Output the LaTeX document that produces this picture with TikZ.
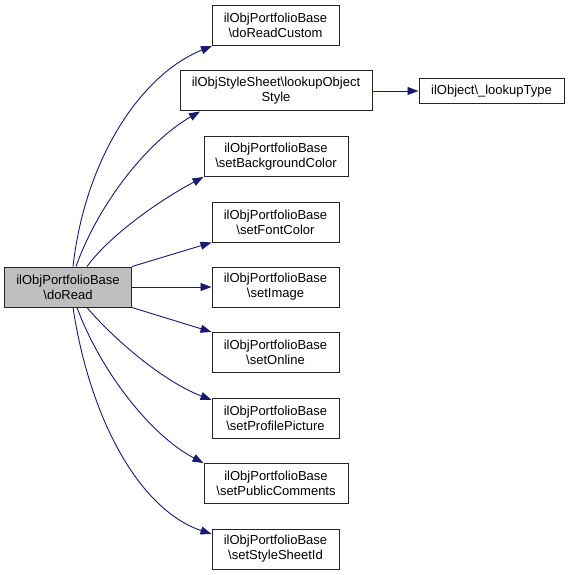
\documentclass[tikz,border=0pt]{standalone}
\usepackage{fontspec}
\setmainfont{Liberation Sans}
\usetikzlibrary{arrows.meta}
\definecolor{edgeblue}{RGB}{25,25,112}
\definecolor{rootgray}{RGB}{191,191,191}

\begin{document}
\begin{tikzpicture}[x=1pt,y=-1pt,
    fn/.style = {draw=black!85, line width=1pt, inner sep=0pt, minimum height=40pt,
        minimum width=127pt, align=center, font=\fontsize{13}{15}\selectfont},
    call/.style = {draw=edgeblue, line width=0.9pt,
        -{Triangle[length=11pt,width=8pt]}}]
\useasboundingbox (0,0) rectangle (569,575);
\node[fn, fill=rootgray] (root) at (68,287) {ilObjPortfolioBase\\\textbackslash doRead};
\node[fn] (readcustom) at (275.5,25.5) {ilObjPortfolioBase\\\textbackslash doReadCustom};
\node[fn, minimum width=192pt] (lookupstyle) at (276,91) {ilObjStyleSheet\textbackslash lookupObject\\Style};
\node[fn, minimum width=144pt] (bgcolor) at (276,156.5) {ilObjPortfolioBase\\\textbackslash setBackgroundColor};
\node[fn] (fontcolor) at (275.5,222) {ilObjPortfolioBase\\\textbackslash setFontColor};
\node[fn] (image) at (275.5,287) {ilObjPortfolioBase\\\textbackslash setImage};
\node[fn] (online) at (275.5,352.5) {ilObjPortfolioBase\\\textbackslash setOnline};
\node[fn] (profilepic) at (275.5,418) {ilObjPortfolioBase\\\textbackslash setProfilePicture};
\node[fn, minimum width=144pt] (comments) at (276,483.5) {ilObjPortfolioBase\\\textbackslash setPublicComments};
\node[fn] (stylesheet) at (275.5,549) {ilObjPortfolioBase\\\textbackslash setStyleSheetId};
\node[fn, minimum width=145pt, minimum height=25pt] (lookuptype) at (491.5,91) {ilObject\textbackslash\_lookupType};

\draw[call] ([xshift=5pt]root.north) .. controls (85,160) and (140,75) .. (readcustom.south west -| 212,40);
\draw[call] ([xshift=8pt]root.north) .. controls (100,200) and (150,140) .. (lookupstyle.south west -| 200,111);
\draw[call] ([xshift=19pt]root.north) .. controls (110,235) and (160,200) .. (bgcolor.south west);
\draw[call] (root.north east) -- (fontcolor.south west);
\draw[call] (root) -- (image);
\draw[call] (root.south east) -- (online.north west);
\draw[call] ([xshift=19pt]root.south) .. controls (110,335) and (160,380) .. (profilepic.north west |- 212,400);
\draw[call] ([xshift=9pt]root.south) .. controls (100,370) and (150,435) .. (comments.north west);
\draw[call] ([xshift=5pt]root.south) .. controls (90,420) and (140,510) .. (stylesheet.north west |- 212,534);
\draw[call] (lookupstyle) -- (lookuptype);
\end{tikzpicture}
\end{document}
